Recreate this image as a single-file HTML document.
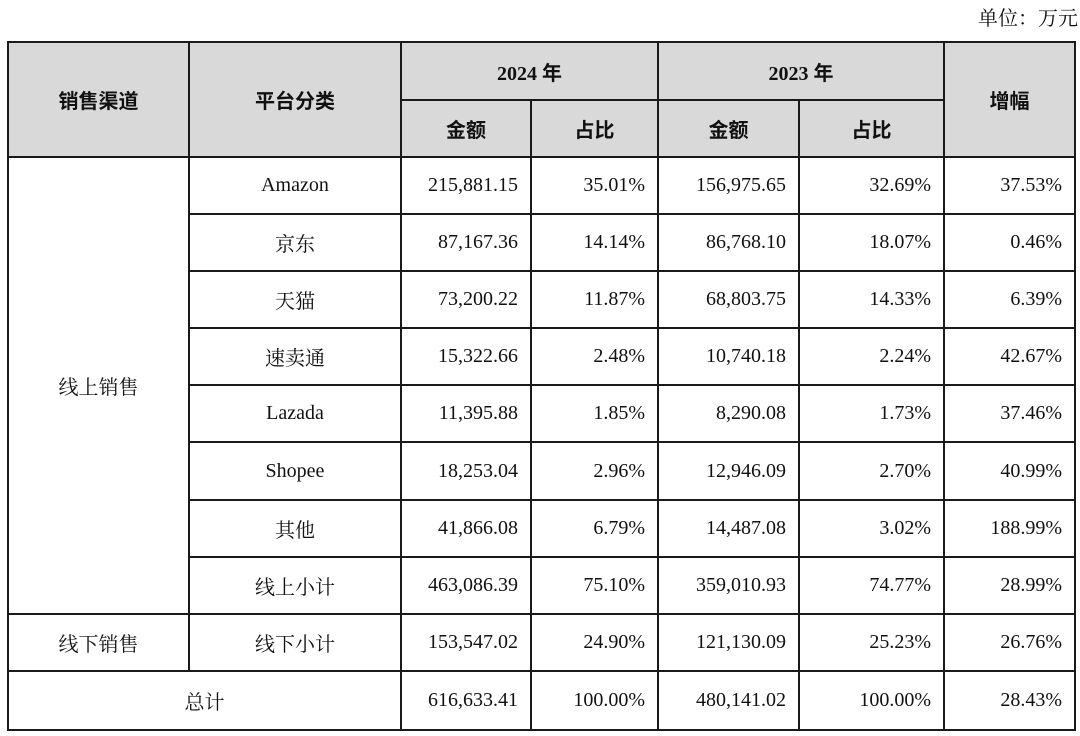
<!DOCTYPE html>
<html><head><meta charset="utf-8"><style>
body{margin:0;width:1080px;height:736px;background:#fff;position:relative;overflow:hidden;font-family:"Liberation Serif","Noto Serif CJK SC",serif;color:#111}
.c{position:absolute;box-sizing:border-box;border:2px solid #1a1a1a;display:flex;align-items:center;justify-content:center;font-size:20px}
.h{background:#d9d9d9;font-family:"Liberation Serif","Noto Sans CJK SC",serif;font-weight:bold;font-size:20px}
.n{justify-content:flex-end;padding-right:12px}
#unit{position:absolute;right:2px;top:2px;font-size:20px}
</style></head><body>
<div id="unit">单位：万元</div>
<div id="t"></div>
<script>
const X=[7,188,400,530,657,798,943,1074];
const Y=[41,99,156,213,270,327,384,441,499,556,613,670,729];
const platforms=["Amazon","京东","天猫","速卖通","Lazada","Shopee","其他","线上小计","线下小计"];
const amt2024=["215,881.15","87,167.36","73,200.22","15,322.66","11,395.88","18,253.04","41,866.08","463,086.39","153,547.02","616,633.41"];
const pct2024=["35.01%","14.14%","11.87%","2.48%","1.85%","2.96%","6.79%","75.10%","24.90%","100.00%"];
const amt2023=["156,975.65","86,768.10","68,803.75","10,740.18","8,290.08","12,946.09","14,487.08","359,010.93","121,130.09","480,141.02"];
const pct2023=["32.69%","18.07%","14.33%","2.24%","1.73%","2.70%","3.02%","74.77%","25.23%","100.00%"];
const growth=["37.53%","0.46%","6.39%","42.67%","37.46%","40.99%","188.99%","28.99%","26.76%","28.43%"];
const t=document.getElementById('t');
function cell(c0,c1,r0,r1,txt,cls,name){
 const d=document.createElement('div');
 d.className='c '+(cls||'');
 d.style.left=X[c0]+'px';d.style.top=Y[r0]+'px';
 d.style.width=(X[c1]-X[c0]+2)+'px';d.style.height=(Y[r1]-Y[r0]+2)+'px';
 d.textContent=txt;
 
 
 t.appendChild(d);
}
cell(0,1,0,2,'销售渠道','h','header-channel');
cell(1,2,0,2,'平台分类','h','header-platform');
cell(2,4,0,1,'2024 年','h','header-2024');
cell(4,6,0,1,'2023 年','h','header-2023');
cell(6,7,0,2,'增幅','h','header-growth');
cell(2,3,1,2,'金额','h','header-amount-2024');
cell(3,4,1,2,'占比','h','header-share-2024');
cell(4,5,1,2,'金额','h','header-amount-2023');
cell(5,6,1,2,'占比','h','header-share-2023');
cell(0,1,2,10,'线上销售','','channel-online');
cell(0,1,10,11,'线下销售','','channel-offline');
cell(0,2,11,12,'总计','','total-label');
for(let i=0;i<10;i++){
 const r=i+2;
 if(i<9) cell(1,2,r,r+1,platforms[i],'','platform-'+i);
 cell(2,3,r,r+1,amt2024[i],'n','amount-2024-'+i);
 cell(3,4,r,r+1,pct2024[i],'n','share-2024-'+i);
 cell(4,5,r,r+1,amt2023[i],'n','amount-2023-'+i);
 cell(5,6,r,r+1,pct2023[i],'n','share-2023-'+i);
 cell(6,7,r,r+1,growth[i],'n','growth-'+i);
}
</script>
</body></html>
